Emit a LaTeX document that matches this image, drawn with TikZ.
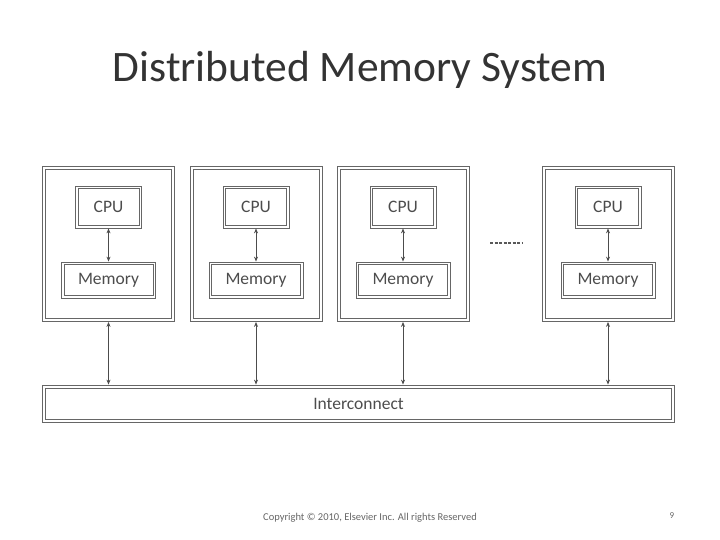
\documentclass[tikz,border=0pt]{standalone}
\usepackage{fontspec}
\setmainfont{Carlito}
\usetikzlibrary{arrows.meta}
\begin{document}
\begin{tikzpicture}[x=1pt,y=1pt,
  frame/.style={draw=black!60,line width=0.8pt},
  innerframe/.style={draw=black!60,line width=0.8pt},
  lbl/.style={font=\fontsize{17.5}{19}\selectfont,text=black!70},
  link/.style={black!70,line width=0.8pt,{Stealth[length=5pt,width=4pt]}-{Stealth[length=5pt,width=4pt]}}]
\useasboundingbox (0,0) rectangle (720,-540);
\node[text=black!80,font=\fontsize{43.5}{48}\selectfont] (title) at (360,-70) {Distributed Memory System};
\foreach \i/\x in {1/108.5,2/256,3/403,4/608}{
  \node[frame,minimum width=132,minimum height=155] (box\i) at (\x,-244) {};
  \node[innerframe,minimum width=126,minimum height=149] (boxin\i) at (\x,-244) {};
  \node[frame,minimum width=66,minimum height=42] (cpu\i) at (\x,-207) {};
  \node[innerframe,lbl,minimum width=61,minimum height=37,inner sep=0pt] (cpuin\i) at (\x,-207) {CPU};
  \node[frame,minimum width=94,minimum height=36] (mem\i) at (\x,-280) {};
  \node[innerframe,lbl,minimum width=89,minimum height=31,inner sep=0pt] (memin\i) at (\x,-280) {Memory};
  \draw[link] (cpu\i) -- (mem\i);
}
\node[frame,minimum width=632,minimum height=37] (ic) at (358.5,-403.5) {};
\node[innerframe,lbl,minimum width=626,minimum height=31,inner sep=0pt] (icin) at (358.5,-403.5) {Interconnect};
\foreach \i in {1,...,4}{
  \draw[link] (box\i.south) -- (box\i.south |- ic.north);
}
\coordinate (d1) at (490,-243);
\coordinate (d2) at (523,-243);
\draw[black!65,line width=1.2pt,dash pattern=on 3pt off 1.5pt] (d1) -- (d2);
\node[text=black!60,font=\fontsize{10.5}{12}\selectfont] (copy) at (370,-518) {Copyright © 2010, Elsevier Inc. All rights Reserved};
\node[text=black!60,font=\fontsize{9}{10}\selectfont] (page) at (672,-516) {9};
\end{tikzpicture}
\end{document}
